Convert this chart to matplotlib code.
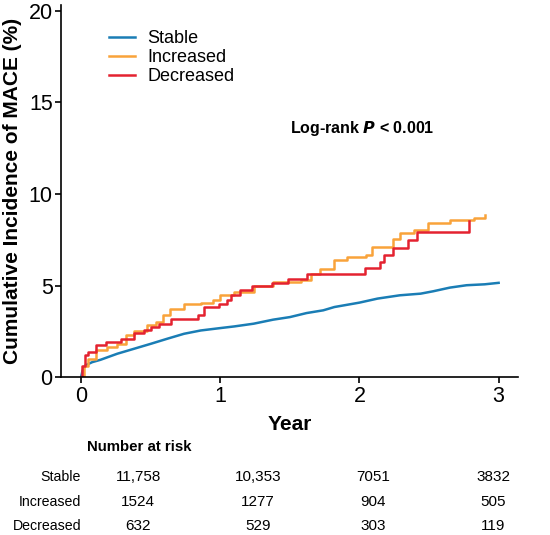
import matplotlib.pyplot as plt
from matplotlib.transforms import blended_transform_factory

plt.rcParams["font.family"] = ["Liberation Sans", "DejaVu Sans"]

# =========================================================
# DATA
# =========================================================

stable_t = [0, 0.01, 0.03, 0.08, 0.14, 0.26, 0.38, 0.50, 0.62, 0.74, 0.86,
            1.00, 1.10, 1.24, 1.38, 1.50, 1.62, 1.74, 1.82, 2.00, 2.13,
            2.29, 2.44, 2.53, 2.65, 2.77, 2.90, 3.00]
stable_y = [0, 0.35, 0.64, 0.82, 0.95, 1.28, 1.55, 1.82, 2.10, 2.37, 2.55,
            2.68, 2.77, 2.92, 3.14, 3.28, 3.50, 3.65, 3.83, 4.07, 4.29,
            4.47, 4.56, 4.69, 4.89, 5.02, 5.07, 5.15]

increased_t = [0, 0.02, 0.05, 0.11, 0.185, 0.26, 0.32, 0.38, 0.47, 0.54,
               0.59, 0.64, 0.74, 0.86, 0.95, 1.00, 1.10, 1.24, 1.38, 1.58,
               1.65, 1.72, 1.82, 1.91, 2.05, 2.09, 2.20, 2.24, 2.29, 2.39,
               2.49, 2.65, 2.82, 2.90]
increased_y = [0, 0.6, 1.0, 1.46, 1.64, 1.82, 2.28, 2.50, 2.83, 3.00,
               3.38, 3.74, 3.98, 4.05, 4.20, 4.47, 4.65, 4.96, 5.20, 5.29,
               5.66, 5.93, 6.39, 6.57, 6.66, 7.12, 7.12, 7.57, 7.85, 8.03,
               8.43, 8.58, 8.67, 8.85]

decreased_t = [0, 0.01, 0.03, 0.05, 0.11, 0.18, 0.29, 0.38, 0.45, 0.50,
               0.56, 0.645, 0.84, 0.88, 0.99, 1.05, 1.08, 1.14, 1.23, 1.37,
               1.49, 1.62, 2.04, 2.15, 2.18, 2.24, 2.35, 2.415, 2.79, 2.79]
decreased_y = [0, 0.6, 1.19, 1.37, 1.73, 1.92, 2.10, 2.43, 2.55, 2.74,
               2.90, 3.20, 3.40, 3.83, 4.00, 4.20, 4.50, 4.74, 4.96, 5.16,
               5.38, 5.66, 5.97, 6.30, 6.66, 7.06, 7.48, 7.94, 8.54, 8.54]

groups = ["Stable", "Increased", "Decreased"]
colors = ["#1a7db5", "#f9a33a", "#e42230"]

risk_times = [0.41, 1.27, 2.10, 2.96]
risk_stable = ["11,758", "10,353", "7051", "3832"]
risk_increased = ["1524", "1277", "904", "505"]
risk_decreased = ["632", "529", "303", "119"]

# =========================================================
# FIGURE
# =========================================================

fig = plt.figure(figsize=(5.5, 5.35), dpi=100)
ax = fig.add_axes([0.111, 0.295, 0.831, 0.695])

ax.plot(stable_t, stable_y, color=colors[0], lw=1.8, label=groups[0])
ax.step(increased_t, increased_y, where="post", color=colors[1], lw=1.8,
        label=groups[1])
ax.step(decreased_t, decreased_y, where="post", color=colors[2], lw=1.8,
        label=groups[2])

ax.set_xlim(-0.144, 3.14)
ax.set_ylim(0, 20.3)
ax.set_xticks([0, 1, 2, 3])
ax.set_yticks([0, 5, 10, 15, 20])
ax.tick_params(labelsize=15.5, length=4.5, width=1.2, direction="out",
               pad=1.5)

for side in ["top", "right"]:
    ax.spines[side].set_visible(False)
for side in ["left", "bottom"]:
    ax.spines[side].set_linewidth(1.2)

ax.set_xlabel("Year", fontsize=15, fontweight="bold", labelpad=6)
ax.set_ylabel("Cumulative Incidence of MACE (%)", fontsize=15,
              fontweight="bold", labelpad=5)

ax.legend(loc="upper left", bbox_to_anchor=(0.09, 0.952), frameon=False,
          fontsize=13, handlelength=1.4, handletextpad=0.7,
          labelspacing=0.1, borderaxespad=0)

ax.text(1.5, 13.6, "Log-rank $\\boldsymbol{P}$ < 0.001", fontsize=11.5,
        fontweight="bold", va="center", ha="left")

# =========================================================
# NUMBER AT RISK TABLE
# =========================================================

trans = blended_transform_factory(ax.transData, fig.transFigure)

fig.text(87 / 550, 1 - 447 / 535, "Number at risk", fontsize=10.8,
         fontweight="bold", va="center", ha="left")

rows = [risk_stable, risk_increased, risk_decreased]
row_y = [1 - 477 / 535, 1 - 502 / 535, 1 - 526 / 535]

for name, vals, yy in zip(groups, rows, row_y):
    ax.text(0, yy, name, transform=trans, fontsize=10.2, ha="right",
            va="center", clip_on=False)
    for t, v in zip(risk_times, vals):
        ax.text(t, yy, v, transform=trans, fontsize=11, ha="center",
                va="center", clip_on=False)

plt.savefig("out.png", dpi=100)
